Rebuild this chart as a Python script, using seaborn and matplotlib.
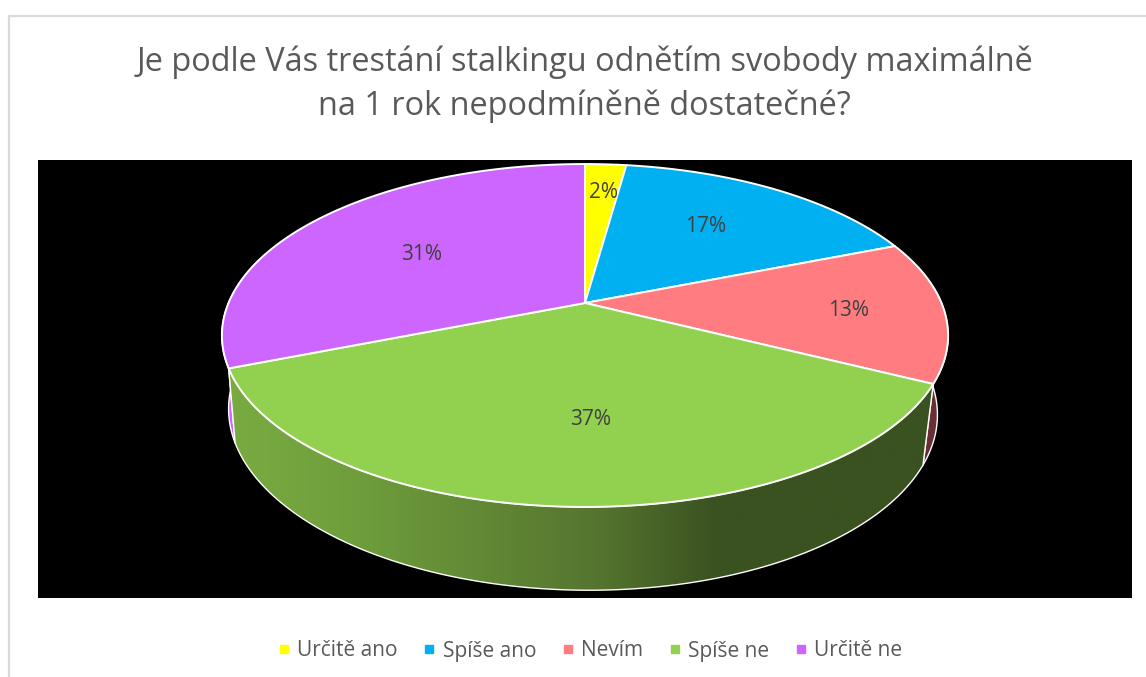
import numpy as np
import matplotlib
matplotlib.use('Agg')
import matplotlib.pyplot as plt
from matplotlib.lines import Line2D
from matplotlib.patches import Polygon
import seaborn as sns

# --- data ---
categories = ['Určitě ano', 'Spíše ano', 'Nevím', 'Spíše ne', 'Určitě ne']
values = [2.2, 16.8, 13.4, 36.6, 31.0]
colors = ['#FFFF00', '#00B0F0', '#FF7C80', '#92D050', '#CC66FF']
title = 'Je podle Vás trestání stalkingu odnětím svobody maximálně\nna 1 rok nepodmíněně dostatečné?'

sns.set_theme(style='white')
plt.rcParams['font.family'] = ['Open Sans', 'DejaVu Sans']

# perspective of the pie, in pixels of the picture
P = 0.1895
TOP = dict(cx=585, y0=303, r=356.5, h=165.3, tilt=0)
BOTTOM = dict(cx=583, y0=378, r=348, h=172, tilt=0.0085)


def project(theta, radius, face):
    # theta in degrees, clockwise from the back of the pie
    t = np.radians(theta)
    u = radius * np.sin(t)
    v = radius * np.cos(t)
    w = 1 + P * v
    x = face['r'] * u / w
    return face['cx'] + x, face['y0'] - face['h'] * v / w + face['tilt'] * x


def arc(a, b, face, n=120):
    x, y = project(np.linspace(a, b, n), 1.0, face)
    return np.column_stack([x, y])


def wall(a, b):
    return np.vstack([arc(a, b, TOP), arc(b, a, BOTTOM)])


fig, ax = plt.subplots(figsize=(11.46, 6.77), dpi=100)
fig.subplots_adjust(left=0, right=1, bottom=0, top=1)
ax.set_xlim(0, 1146)
ax.set_ylim(677, 0)
ax.axis('off')

# chart frame and black plot area
ax.plot([9, 9, 1146], [677, 15.5, 15.5], color='#d9d9d9', lw=1.6, zorder=1)
ax.fill_between([38, 1132], 160, 598, color='black', lw=0, zorder=1)

edges = 360 * np.cumsum([0] + values) / np.sum(values)

# side walls, the ones at the back first
ax.add_patch(Polygon(wall(edges[4], edges[4] + 40), fc=colors[4], ec='white', lw=1, zorder=2))
ax.add_patch(Polygon(wall(edges[3] - 40, edges[3]), fc='#6A2F34', ec='white', lw=1, zorder=2))

wall_patch = Polygon(wall(edges[3], edges[4]), fc='none', ec='white', lw=1, zorder=4)
ax.add_patch(wall_patch)
shade = sns.blend_palette(['#7AAB42', '#6F9F3C', '#638A36', '#55752F', '#3A5120', '#3A5120', '#3A5120'],
                          as_cmap=True)
img = ax.imshow(np.linspace(0, 1, 256)[None, :], cmap=shade, extent=(225, 968, 600, 300),
                aspect='auto', zorder=3)
img.set_clip_path(wall_patch)
ax.set_xlim(0, 1146)
ax.set_ylim(677, 0)

# top face
for i, c in enumerate(colors):
    pts = np.vstack([[TOP['cx'], TOP['y0']], arc(edges[i], edges[i + 1], TOP)])
    ax.add_patch(Polygon(pts, fc=c, ec='white', lw=1.4, joinstyle='round', zorder=5))

# data labels
label_r = [0.8, 0.6, 0.75, 0.6, 0.6]
label_dx = [1, -1, -5, 16, 3]
label_dy = [4, -5, 2, 5, 4]
for i, v in enumerate(values):
    lx, ly = project((edges[i] + edges[i + 1]) / 2, label_r[i], TOP)
    ax.text(lx + label_dx[i], ly + label_dy[i], f'{round(v)}%', ha='center', va='center',
            fontsize=15, color='#404040', zorder=6)

ax.text(584.5, 84, title, ha='center', va='center', fontsize=23.45, color='#595959',
        linespacing=1.42, zorder=6)

handles = [Line2D([], [], ls='none', marker='s', ms=6, mfc=c, mec=c, label=n)
           for c, n in zip(colors, categories)]
ax.legend(handles=handles, ncol=5, loc='center', bbox_to_anchor=(590, 651),
          bbox_transform=ax.transData, frameon=False, fontsize=15, labelcolor='#595959',
          handlelength=0.6, handletextpad=0.36, columnspacing=1.2, borderpad=0)

fig.savefig('out.png', dpi=100, facecolor='white')
